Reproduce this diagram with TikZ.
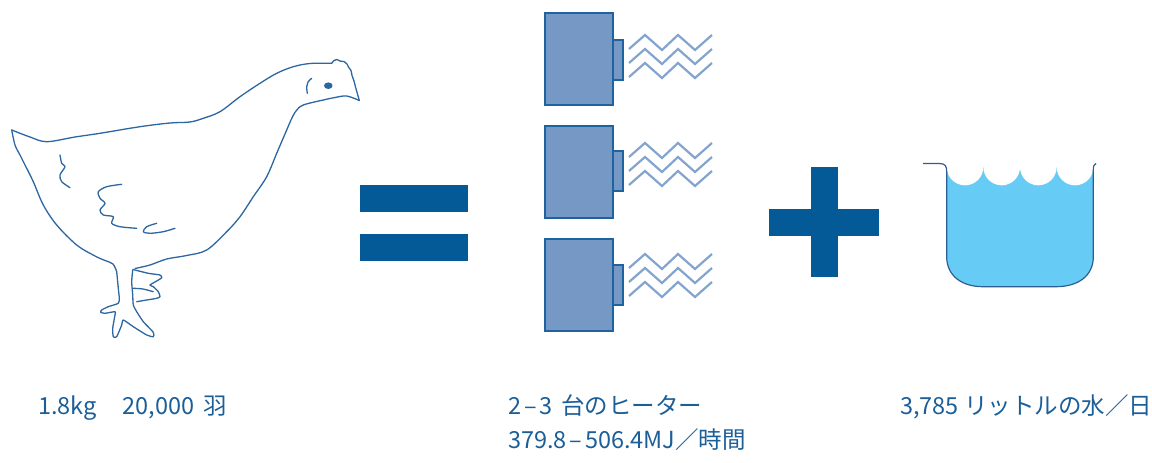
\documentclass[tikz,border=0pt]{standalone}
\usepackage{fontspec}
\setmainfont{Noto Sans CJK JP}
\definecolor{opblue}{HTML}{045A96}
\definecolor{txtblue}{HTML}{1B5E98}
\definecolor{heatfill}{HTML}{7698C4}
\definecolor{heatedge}{HTML}{1F62A0}
\definecolor{wavecol}{HTML}{82A4CE}
\definecolor{water}{HTML}{66CCF5}
\definecolor{pail}{HTML}{2C5E92}
\definecolor{hen}{HTML}{2C66A3}
\newcommand{\rangedash}{\kern0.12em–\kern0.12em}
\tikzset{
  opbar/.style={fill=opblue, draw=none, inner sep=0pt, outer sep=0pt},
  heaterbox/.style={fill=heatfill, draw=heatedge, line width=1.8pt, inner sep=0pt, anchor=north west},
  nubbox/.style={fill=heatfill, draw=heatedge, line width=1.5pt, inner sep=0pt, anchor=north west,
                 minimum width=10pt, minimum height=40pt},
  warm/.style={draw=wavecol, line width=2.2pt, line join=miter},
  hen/.style={draw=hen, line width=1.3pt, line cap=round, line join=round},
  caption/.style={text=txtblue, font=\fontsize{23.5}{28}\selectfont, anchor=base west, inner sep=0pt}
}
\begin{document}
\begin{tikzpicture}[x=1pt,y=-1pt]
\useasboundingbox (0,0) rectangle (1152,463);

% ---- hen ----
% back, head and comb down to the beak tip
\draw[hen] plot[smooth, tension=0.55] coordinates {
  (11.7,130) (30,137) (46.7,141.7) (75,137) (100,133.3) (140,126.7) (170,123)
  (190,122) (203.3,118.3) (220,111.7) (240,96.7) (260,83.3) (276.7,73.3)
  (293.3,66.7) (310,63.5) (331.7,63.3)};
\draw[hen] plot[smooth, tension=0.6] coordinates {
  (331.7,63.3) (334,60.5) (337,59.5) (340.5,61.2) (344,61.5) (347,64)
  (348.5,67) (351,70.5) (352,75.5) (354,81) (355.5,87) (357.5,94) (359.3,100.5)};
% throat, breast and belly to the front leg
\draw[hen] plot[smooth, tension=0.55] coordinates {
  (359.3,100.5) (346.7,96) (335,97.5) (323.3,100) (303.3,105) (296,111)
  (291,120) (286.7,130) (276.7,153.3) (266.7,176.7) (253.3,196.7) (240,216.7)
  (226.7,231.7) (206.7,250) (186.7,255.5) (166.7,259) (150,265) (135,268.5)};
% tail underside down to the back leg
\draw[hen] plot[smooth, tension=0.55] coordinates {
  (11.7,130) (15,145) (20,155) (25,165) (33.3,181.7) (43.3,205) (56.7,225)
  (76.7,245) (95,256) (105,260.5) (113,264) (116.7,271.7)};
% back leg with its toes, up the front leg
\draw[hen] plot[smooth, tension=0.35] coordinates {
  (116.7,271.7) (118.3,288.3) (119.3,298.3) (118.3,303.3) (108.3,306.7)
  (101.7,310) (100.7,312.3) (105,313.3) (115,311.7) (115,315) (112.7,328.3)
  (113.3,336.7) (116.7,336.7) (121.7,325) (123.3,320) (133.3,326.7)
  (146.7,335) (153.3,336.7) (153.3,332.3) (143.3,321.7) (136.7,311.7)
  (133.3,305) (132.7,295) (131.7,281.7) (132.7,270)};
% front foot lifted forward
\draw[hen] plot[smooth, tension=0.35] coordinates {
  (133,269.5) (148.3,273.3) (160,275) (161.7,277.7) (156.7,281) (150,285)
  (153.3,286.7) (158.3,291.7) (160,296.7) (156.7,298.3) (146.7,300) (136.7,301.7)};
\draw[hen] plot[smooth, tension=0.5] coordinates {(133.3,288.3) (143,289) (153.3,291.7)};
% feather strokes on the flank
\draw[hen] plot[smooth, tension=0.5] coordinates {
  (60,155) (61.7,163.3) (65,166.7) (60,175) (61.7,181.7) (70,187.7)};
\draw[hen] plot[smooth, tension=0.5] coordinates {
  (121.7,184.3) (106.7,186.7) (98.3,191.7) (100,198.3) (105,203.3) (100,210)
  (103.3,215) (113.3,216.7) (111.7,223.3) (120,226.7) (136.7,228.3)};
\draw[hen] plot[smooth, tension=0.5] coordinates {
  (156.7,223.3) (146.7,226.7) (143.3,231.7) (150,233.3) (163.3,231.7) (175,228.3)};
% eye and cheek
\fill[hen, fill=hen] (328.3,85.7) ellipse [x radius=3.6, y radius=2.6];
\draw[hen] plot[smooth, tension=0.6] coordinates {(311.7,78.3) (308,82) (306.7,86.7) (307.3,93.3)};

% ---- equals sign ----
\node[opbar, minimum width=108pt, minimum height=27pt] (eqtop) at (414,198.5) {};
\node[opbar, minimum width=108pt, minimum height=27pt] (eqbot) at (414,247.5) {};

% ---- heaters ----
\foreach \t/\n/\w/\k in {12/39/35/1, 125/150/143/2, 238/264/254/3}{
  \node[heaterbox, minimum width=68pt, minimum height=92pt] (heater\k) at (544,\t) {};
  \node[nubbox] (nub\k) at (612,\n) {};
  \foreach \d in {0,14,28}{
    \draw[warm] (629,\w+\d+14) -- (645,\w+\d) -- (662,\w+\d+15) -- (678,\w+\d)
                -- (695,\w+\d+15) -- (712,\w+\d);
  }
}

% ---- plus sign ----
\node[opbar, minimum width=110pt, minimum height=27pt] (plush) at (824,222) {};
\node[opbar, minimum width=27pt, minimum height=110pt] (plusv) at (824,222) {};

% ---- pail of water ----
\fill[water] (946.7,167) -- (946.7,256.7)
  .. controls (946.7,276) and (962,286.7) .. (983,286.7) -- (1056,286.7)
  .. controls (1078,286.7) and (1093.3,276) .. (1093.3,256.7) -- (1093.3,167) -- cycle;
\foreach \c in {965,1001.7,1038.3,1075}{
  \fill[white] (\c,167) circle [radius=18.33];
}
\fill[white] (940,140) rectangle (1100,167);
\draw[pail, line width=1.2pt] (923,163.5) -- (939,163.5)
  .. controls (945.5,163.5) and (946.7,166) .. (946.7,172) -- (946.7,256.7)
  .. controls (946.7,276) and (962,286.7) .. (983,286.7) -- (1056,286.7)
  .. controls (1078,286.7) and (1093.3,276) .. (1093.3,256.7) -- (1093.3,170)
  .. controls (1093.3,166) and (1094,164.5) .. (1096,163.5);

% ---- captions ----
\node[caption] (henlabel) at (38,414) {1.8kg\hspace{1.1em}20,000\hspace{0.15em} 羽};
\node[caption] (heatlabel) at (508,414) {2\rangedash 3\hspace{0.15em} 台のヒーター};
\node[caption] (energylabel) at (508,448) {379.8\rangedash 506.4MJ／時間};
\node[caption] (waterlabel) at (900,414) {3,785 リットルの水／日};
\end{tikzpicture}
\end{document}
